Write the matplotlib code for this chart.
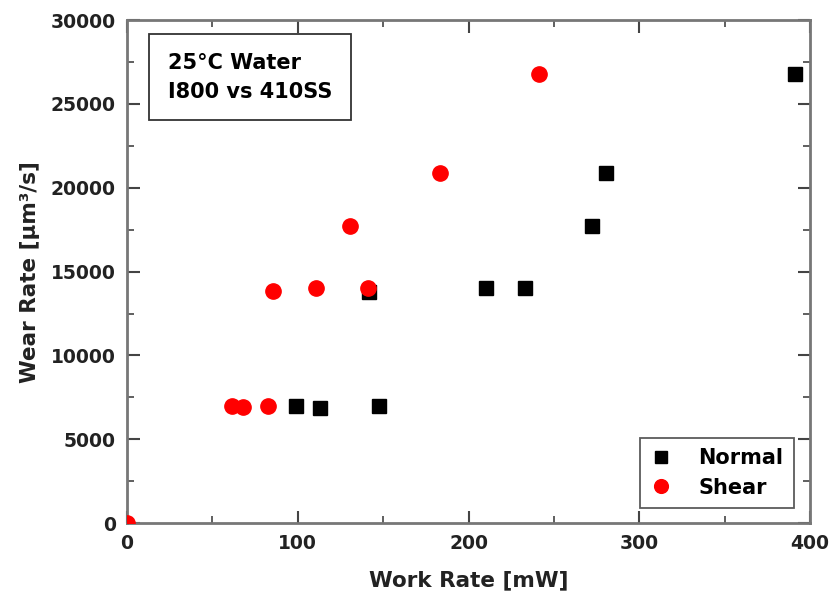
import matplotlib
matplotlib.use("Agg")
import matplotlib.pyplot as plt
from matplotlib.ticker import MultipleLocator

plt.rcParams['font.family'] = ['DejaVu Sans']
plt.rcParams['font.weight'] = 'bold'

normal_x = [99, 113, 147.6, 141.7, 210, 233, 272, 280.5, 391]
normal_y = [7000, 6850, 7000, 13800, 14000, 14000, 17750, 20900, 26800]
shear_x = [0, 61.5, 68, 82.6, 85.5, 110.7, 130.6, 141, 183, 241]
shear_y = [0, 7000, 6900, 7000, 13850, 14000, 17750, 14000, 20900, 26800]

fig = plt.figure(figsize=(8.36, 6.07), dpi=100)
ax = fig.add_axes([0.152, 0.138, 0.817, 0.829])

ax.plot(normal_x, normal_y, 's', color='black', markersize=10, label='Normal', zorder=3)
ax.plot(shear_x, shear_y, 'o', color='#ff0000', markersize=11, label='Shear', zorder=3)

ax.set_xlim(0, 400)
ax.set_ylim(0, 30000)
ax.xaxis.set_major_locator(MultipleLocator(100))
ax.xaxis.set_minor_locator(MultipleLocator(50))
ax.yaxis.set_major_locator(MultipleLocator(5000))
ax.yaxis.set_minor_locator(MultipleLocator(2500))
ax.tick_params(which='both', direction='in', top=True, right=True, color='#444444')
ax.tick_params(which='major', length=9, width=1.5, labelsize=13.5, pad=8)
ax.tick_params(which='minor', length=5, width=1.2)
for lab in ax.get_xticklabels() + ax.get_yticklabels():
    lab.set_fontweight('bold')
    lab.set_color('#222222')
for s in ax.spines.values():
    s.set_color('#777777')
    s.set_linewidth(2)

ax.set_xlabel('Work Rate [mW]', fontsize=15.5, fontweight='bold', labelpad=12, color='#222222')
ax.set_ylabel('Wear Rate [μm³/s]', fontsize=15.5, fontweight='bold', labelpad=8, color='#222222')

ax.text(0.06, 0.935, '25°C Water\nI800 vs 410SS', transform=ax.transAxes, fontsize=15,
        fontweight='bold', va='top', ha='left', linespacing=1.55,
        bbox=dict(boxstyle='square,pad=0.9', facecolor='white', edgecolor='#333333', linewidth=1.3))

leg = ax.legend(loc='lower right', bbox_to_anchor=(0.976, 0.03), frameon=True,
                fancybox=False, edgecolor='#333333', handlelength=1.0, handletextpad=1.3,
                borderpad=0.5, borderaxespad=0.0, labelspacing=0.45, markerscale=0.9,
                prop={'weight': 'bold', 'size': 15})
leg.get_frame().set_linewidth(1.3)

fig.savefig('out.png', dpi=100)
